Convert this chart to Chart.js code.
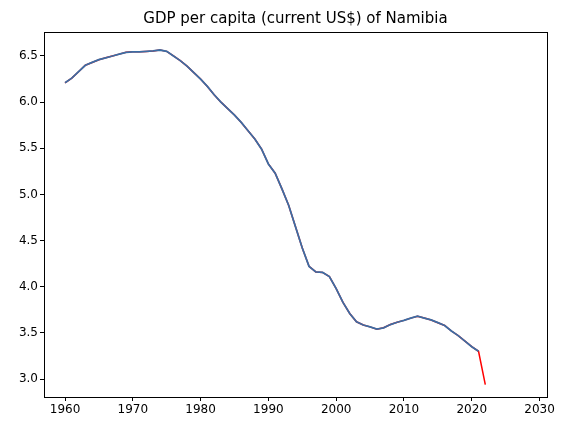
<!DOCTYPE html>
<html><head><script src="https://cdn.jsdelivr.net/npm/chart.js@4"></script>
<style>body{margin:0;background:#fff}#w{width:565px;height:435px}</style></head>
<body><div id="w"><canvas id="c"></canvas></div>
<script>
const years=[];for(let y=1960;y<=2022;y++)years.push(y);
const values=[6.21,6.26,6.33,6.40,6.43,6.46,6.48,6.50,6.52,6.54,6.545,6.545,6.55,6.555,6.565,6.55,6.50,6.45,6.39,6.32,6.25,6.17,6.08,6.00,5.93,5.86,5.78,5.69,5.60,5.49,5.33,5.23,5.06,4.88,4.65,4.42,4.22,4.16,4.155,4.11,3.98,3.83,3.71,3.62,3.585,3.565,3.54,3.555,3.59,3.615,3.635,3.66,3.68,3.66,3.64,3.61,3.58,3.52,3.47,3.41,3.35,3.30,2.94];
const xTicks=[1960,1970,1980,1990,2000,2010,2020,2030];
const yTicks=[3.0,3.5,4.0,4.5,5.0,5.5,6.0,6.5];
const titleText='GDP per capita (current US$) of Namibia';
const full=years.map((x,i)=>({x,y:values[i]}));
const hist=full.slice(0,years.indexOf(2021)+1);
const frame={id:'frame',afterDraw(c){const a=c.chartArea,g=c.ctx;g.save();g.strokeStyle='#000';g.lineWidth=1;g.strokeRect(Math.round(a.left)+0.5,Math.round(a.top)+0.5,Math.round(a.right-a.left),Math.round(a.bottom-a.top));
g.fillStyle='#000';g.font='15px "DejaVu Sans"';g.textAlign='center';g.textBaseline='alphabetic';g.fillText(titleText,(a.left+a.right)/2,a.top-9);g.restore();}};
const tk=()=>({grid:{drawOnChartArea:false,drawTicks:true,tickLength:4,color:'#000'},border:{display:false}});
new Chart(document.getElementById('c'),{type:'line',
data:{datasets:[
{data:hist,borderColor:'#3a6ea5',borderWidth:1.8,pointRadius:0,tension:0,order:1},
{data:full,borderColor:'#ff0000',borderWidth:1.5,pointRadius:0,tension:0,order:2}]},
options:{responsive:true,maintainAspectRatio:false,animation:false,
layout:{padding:{left:0,right:18,top:32,bottom:0}},
plugins:{legend:{display:false},tooltip:{enabled:false},title:{display:false}},
scales:{
x:{type:'linear',min:1956.9,max:2031.1,afterBuildTicks(s){s.ticks=xTicks.map(v=>({value:v}));},
ticks:{color:'#000',font:{family:'DejaVu Sans',size:12},maxRotation:0,padding:2,callback:v=>String(v)},
afterFit(s){s.height=38;},...tk()},
y:{min:2.805,max:6.76,afterBuildTicks(s){s.ticks=yTicks.map(v=>({value:v}));},
ticks:{color:'#000',font:{family:'DejaVu Sans',size:12},padding:2,callback:v=>v.toFixed(1)},
afterFit(s){s.width=44;},...tk()}}},
plugins:[frame]});
</script></body></html>
